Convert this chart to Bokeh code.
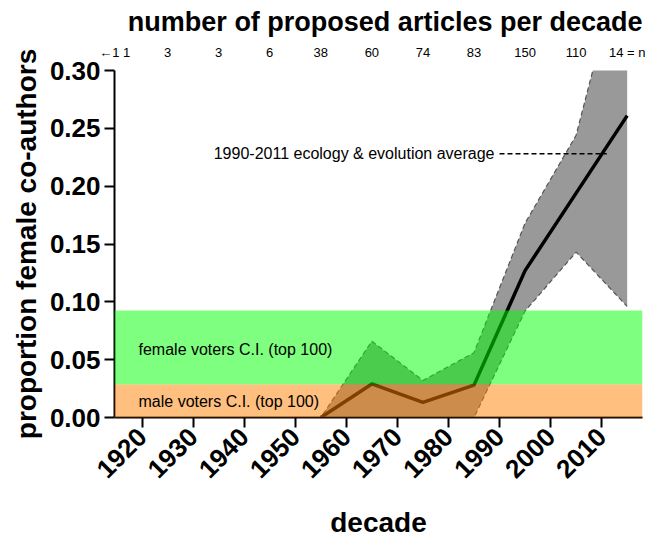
import math
from bokeh.plotting import figure
from bokeh.models import (Range1d, FixedTicker, LinearAxis, BoxAnnotation, Label,
                          NumeralTickFormatter, ColumnDataSource)
from bokeh.embed import file_html
from bokeh.resources import INLINE

nan = float("nan")

# ---- data ----
decades = [1915, 1925, 1935, 1945, 1955, 1965, 1975, 1985, 1995, 2005, 2015]
n_labels = ["\u21901  1", "3", "3", "6", "38", "60", "74", "83", "150", "110", "14 = n"]
mean_prop = [nan, nan, nan, nan, 0.0, 0.029, 0.013, 0.028, 0.127, 0.194, 0.261]
ci_lower = [0.0, 0.0, 0.0, 0.0, 0.0, 0.0, 0.0, 0.0, 0.092, 0.143, 0.096]
ci_upper = [0.0, 0.0, 0.0, 0.0, 0.0, 0.066, 0.032, 0.056, 0.168, 0.244, 0.415]
male_ci = [0.0, 0.0285]
female_ci = [0.0285, 0.0925]
eco_years = [1990, 2011]
eco_avg = 0.228
x_ticks = [1920, 1930, 1940, 1950, 1960, 1970, 1980, 1990, 2000, 2010]
y_ticks = [0.0, 0.05, 0.10, 0.15, 0.20, 0.25, 0.30]

FONT = "Liberation Sans"

p = figure(width=649, height=541, output_backend="svg", toolbar_location=None,
           x_range=Range1d(1914.6, 2018.0), y_range=Range1d(0.0, 0.30),
           min_border_left=114, min_border_right=7, min_border_top=69,
           min_border_bottom=120)
p.grid.visible = False
p.outline_line_color = None
p.background_fill_color = "white"

# title
p.title.text = "number of proposed articles per decade"
p.title.text_font = FONT
p.title.text_font_size = "27px"
p.title.text_font_style = "bold"
p.title.text_color = "black"
p.title.align = "right"
p.title.standoff = 9

# CI band
src = ColumnDataSource(dict(x=decades, lo=ci_lower, hi=ci_upper, m=mean_prop))
p.varea(x="x", y1="lo", y2="hi", source=src, fill_color="#999999")
p.line(x="x", y="hi", source=src, line_color="#555555", line_width=1.2, line_dash="5 3")
p.line(x="x", y="lo", source=src, line_color="#555555", line_width=1.2, line_dash="5 3")
p.line(x="x", y="m", source=src, line_color="black", line_width=3.5)

# eco average
p.line(x=eco_years, y=[eco_avg, eco_avg], line_color="black", line_width=1.4, line_dash="5 3")
p.add_layout(Label(x=eco_years[0], y=eco_avg, x_offset=-5,
                   text="1990-2011 ecology & evolution average",
                   text_align="right", text_baseline="middle",
                   text_font=FONT, text_font_size="16px", text_color="black"))

# voter CI boxes
p.add_layout(BoxAnnotation(bottom=female_ci[0], top=female_ci[1], fill_color="#00ff00",
                           fill_alpha=0.5, line_color=None))
p.add_layout(BoxAnnotation(bottom=male_ci[0], top=male_ci[1], fill_color="#ff8000",
                           fill_alpha=0.5, line_color=None))
p.add_layout(Label(x=1919.3, y=(female_ci[0] + female_ci[1]) / 2 - 0.002,
                   text="female voters C.I. (top 100)", text_baseline="middle",
                   text_font=FONT, text_font_size="16px", text_color="black"))
p.add_layout(Label(x=1919.3, y=(male_ci[0] + male_ci[1]) / 2,
                   text="male voters C.I. (top 100)", text_baseline="middle",
                   text_font=FONT, text_font_size="16px", text_color="black"))

# axes
for ax in (p.xaxis[0], p.yaxis[0]):
    ax.axis_line_width = 2
    ax.axis_line_color = "black"
    ax.major_tick_line_width = 2
    ax.major_tick_line_color = "black"
    ax.major_tick_in = 0
    ax.major_tick_out = 10
    ax.minor_tick_line_color = None
    ax.major_label_text_font = FONT
    ax.major_label_text_font_size = "26px"
    ax.major_label_text_font_style = "bold"
    ax.major_label_text_color = "black"
    ax.axis_label_text_font = FONT
    ax.axis_label_text_font_style = "bold"
    ax.axis_label_text_font_size = "28px"
    ax.axis_label_text_color = "black"

p.xaxis.ticker = FixedTicker(ticks=x_ticks)
p.xaxis.major_label_orientation = math.pi / 4
p.xaxis.axis_label = "decade"
p.xaxis.axis_label_standoff = 18
p.yaxis.ticker = FixedTicker(ticks=y_ticks)
p.yaxis.formatter = NumeralTickFormatter(format="0.00")
p.yaxis.axis_label = "proportion female co-authors"
p.yaxis.major_label_standoff = 4

top = LinearAxis(ticker=FixedTicker(ticks=decades),
                 major_label_overrides={d: t for d, t in zip(decades, n_labels)})
top.axis_line_color = None
top.major_tick_line_color = None
top.minor_tick_line_color = None
top.major_label_text_font = FONT
top.major_label_text_font_size = "13px"
top.major_label_text_color = "black"
top.major_label_standoff = 5
p.add_layout(top, "above")

open("out.html", "w").write(file_html(p, INLINE))
